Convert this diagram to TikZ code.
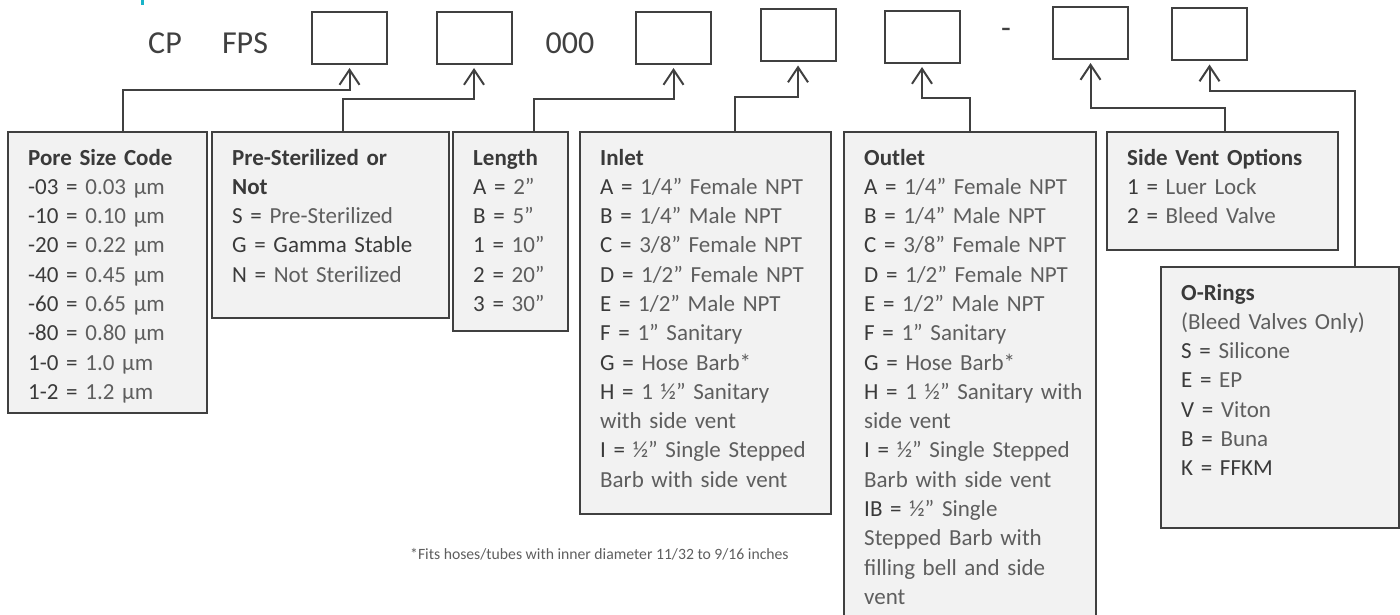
\documentclass[tikz,border=0pt]{standalone}
\usepackage{fontspec}
\setmainfont{Carlito}
\usepackage{xcolor}
\usetikzlibrary{arrows.meta}

\definecolor{linegray}{HTML}{404040}
\definecolor{panelfill}{HTML}{F2F2F2}
\definecolor{codegray}{HTML}{3A3A3A}
\definecolor{textgray}{HTML}{5E5E5E}
\definecolor{markcyan}{HTML}{1AB3C8}

\newcommand{\opt}[2]{{\color{codegray}#1 =} #2}
\newcommand{\heading}[1]{{\bfseries\color{codegray}#1}}

\tikzset{
  slot/.style={draw=linegray, line width=2pt, fill=white, minimum width=75pt, minimum height=52pt, inner sep=0pt},
  panel/.style={draw=linegray, line width=2pt, fill=panelfill, anchor=north west, inner sep=0pt},
  listing/.style={anchor=base west, inner sep=0pt, align=left, text=textgray, font=\fontsize{23}{29.3}\selectfont},
  link/.style={draw=linegray, line width=2pt, -{Straight Barb[length=15pt,width=20pt]}, shorten >=3pt},
  code/.style={text=linegray, inner sep=0pt, font=\fontsize{32}{36}\selectfont}
}

\begin{document}
\begin{tikzpicture}[x=1pt, y=-1pt]
  \useasboundingbox (0,0) rectangle (1400,615);
  \fill[markcyan] (141,0) rectangle (143.5,5);

  % part number
  \node[code] (cp) at (165,43) {CP};
  \node[code] (fps) at (245,43) {FPS};
  \node[slot] (b1) at (349.5,38) {};
  \node[slot] (b2) at (474,38) {};
  \node[code] (zeros) at (570,43) {000};
  \node[slot] (b3) at (673.5,38) {};
  \node[slot] (b4) at (798,35.5) {};
  \node[slot] (b5) at (922,37) {};
  \node[code] (dash) at (1006,33) {-};
  \node[slot] (b6) at (1090.5,33) {};
  \node[slot] (b7) at (1209.5,34.5) {};

  % Pore size
  \node[panel, minimum width=199pt, minimum height=281pt] (pore) at (7,131) {};
  \node[listing, text width=180pt] (poretext) at (28,165) {\heading{Pore Size Code}\\
    \opt{-03}{0.03 µm}\\ \opt{-10}{0.10 µm}\\ \opt{-20}{0.22 µm}\\ \opt{-40}{0.45 µm}\\
    \opt{-60}{0.65 µm}\\ \opt{-80}{0.80 µm}\\ \opt{1-0}{1.0 µm}\\ \opt{1-2}{1.2 µm}};

  % Sterilization
  \node[panel, minimum width=237pt, minimum height=186pt] (ster) at (211,131) {};
  \node[listing, text width=210pt] (stertext) at (232,165) {\heading{Pre-Sterilized or}\\ \heading{Not}\\
    \opt{S}{Pre-Sterilized}\\ {\color{codegray}G = Gamma Stable}\\ \opt{N}{Not Sterilized}};

  % Length
  \node[panel, minimum width=115pt, minimum height=199pt] (length) at (452,131) {};
  \node[listing, text width=90pt] (lengthtext) at (473,165) {\heading{Length}\\
    \opt{A}{2”}\\ \opt{B}{5”}\\ \opt{1}{10”}\\ \opt{2}{20”}\\ \opt{3}{30”}};

  % Inlet
  \node[panel, minimum width=251pt, minimum height=382pt] (inlet) at (579,131) {};
  \node[listing, text width=225pt] (inlettext) at (600,165) {\heading{Inlet}\\
    \opt{A}{1/4” Female NPT}\\ \opt{B}{1/4” Male NPT}\\ \opt{C}{3/8” Female NPT}\\
    \opt{D}{1/2” Female NPT}\\ \opt{E}{1/2” Male NPT}\\ \opt{F}{1” Sanitary}\\
    \opt{G}{Hose Barb*}\\ \opt{H}{1 ½” Sanitary}\\ with side vent\\
    \opt{I}{½” Single Stepped}\\ Barb with side vent};

  % Outlet
  \node[panel, minimum width=252pt, minimum height=500pt] (outlet) at (843,131) {};
  \node[listing, text width=225pt] (outlettext) at (864,165) {\heading{Outlet}\\
    \opt{A}{1/4” Female NPT}\\ \opt{B}{1/4” Male NPT}\\ \opt{C}{3/8” Female NPT}\\
    \opt{D}{1/2” Female NPT}\\ \opt{E}{1/2” Male NPT}\\ \opt{F}{1” Sanitary}\\
    \opt{G}{Hose Barb*}\\ \opt{H}{1 ½” Sanitary with}\\ side vent\\
    \opt{I}{½” Single Stepped}\\ Barb with side vent\\ \opt{IB}{½” Single}\\
    Stepped Barb with\\ filling bell and side\\ vent};

  % Side vent
  \node[panel, minimum width=231pt, minimum height=118pt] (vent) at (1106,131) {};
  \node[listing, text width=210pt] (venttext) at (1127,165) {\heading{Side Vent Options}\\
    \opt{1}{Luer Lock}\\ \opt{2}{Bleed Valve}};

  % O-rings
  \node[panel, minimum width=238pt, minimum height=261pt] (orings) at (1160,266) {};
  \node[listing, text width=210pt] (oringstext) at (1181,300) {\heading{O-Rings}\\
    (Bleed Valves Only)\\ \opt{S}{Silicone}\\ \opt{E}{EP}\\ \opt{V}{Viton}\\
    \opt{B}{Buna}\\ {\color{codegray}K = FFKM}};

  % connectors
  \draw[link] ([xshift=15.5pt]pore.north) |- ([yshift=-25pt]b1.south) -- (b1.south);
  \draw[link] ([xshift=12.5pt]ster.north) |- ([yshift=-34pt]b2.south) -- (b2.south);
  \draw[link] ([xshift=23.5pt]length.north) |- ([yshift=-34pt]b3.south) -- (b3.south);
  \draw[link] ([xshift=29.5pt]inlet.north) |- ([yshift=-35pt]b4.south) -- (b4.south);
  \draw[link] (outlet.north) |- ([yshift=-34pt]b5.south) -- (b5.south);
  \draw[link] ([xshift=2.5pt]vent.north) |- ([yshift=-48pt]b6.south) -- (b6.south);
  \draw[link] ([xshift=75pt]orings.north) |- ([yshift=-30pt]b7.south) -- (b7.south);

  \node[anchor=base west, inner sep=0pt, text=textgray, font=\fontsize{15.7}{18}\selectfont] (footnote) at (410,559)
    {*Fits hoses/tubes with inner diameter 11/32 to 9/16 inches};
\end{tikzpicture}
\end{document}
